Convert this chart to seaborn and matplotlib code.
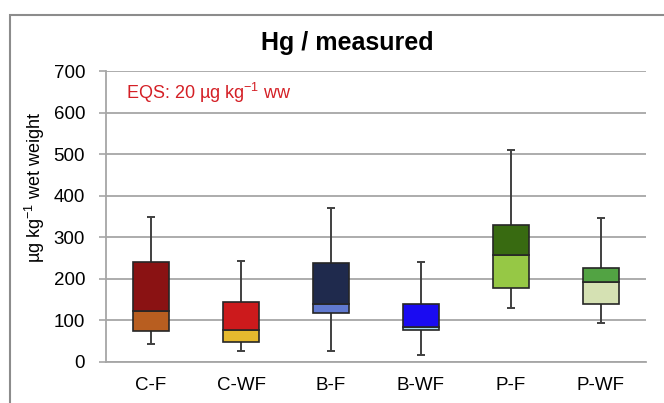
import numpy as np
import pandas as pd
import matplotlib
matplotlib.use("Agg")
import matplotlib.pyplot as plt
import seaborn as sns
from matplotlib.patches import Rectangle

# Werte (µg/kg Nassgewicht)
groups = ["C-F", "C-WF", "B-F", "B-WF", "P-F", "P-WF"]
whisker_low = [44, 27, 27, 18, 130, 93]
q1 = [75, 48, 119, 77, 179, 139]
median = [123, 77, 140, 83, 258, 192]
q3 = [240, 145, 237, 139, 330, 225]
whisker_high = [349, 242, 370, 240, 510, 347]

# Farben: unterer Teil (Q1-Median) und oberer Teil (Median-Q3)
lower_colors = ["#B85E20", "#E5B92E", "#6079CF", "#A8DDF0", "#96C845", "#D5E1B3"]
upper_colors = ["#8A1213", "#CC1A1C", "#1F2A4D", "#1A0BF2", "#386A11", "#52A343"]

df = pd.DataFrame({"group": groups, "lo": whisker_low, "q1": q1, "med": median,
                   "q3": q3, "hi": whisker_high})

sns.set_style("white")
plt.rcParams["font.family"] = ["Liberation Sans", "DejaVu Sans"]
plt.rcParams["mathtext.fontset"] = "custom"
plt.rcParams["mathtext.rm"] = "Liberation Sans"
plt.rcParams["mathtext.default"] = "regular"
plt.rcParams["text.color"] = "black"
plt.rcParams["xtick.color"] = "black"
plt.rcParams["ytick.color"] = "black"

fig = plt.figure(figsize=(6.64, 4.03), dpi=100)
ax = fig.add_axes([106 / 664, 1 - 362 / 403, 540 / 664, 291 / 403])

# Rahmen um das ganze Diagramm (rechts und unten abgeschnitten)
fig.patches.append(Rectangle((10 / 664, -0.2), 1.2, 1.2 - 15 / 403,
                             transform=fig.transFigure, fill=False,
                             edgecolor="#8C8C8C", lw=1.5, zorder=0))

x = np.arange(len(df))
box_w = 0.4
cap_w = 0.09

# Whisker
ax.vlines(x, df["lo"], df["hi"], color="#404040", lw=1.4, zorder=2)
ax.hlines(df["lo"], x - cap_w / 2, x + cap_w / 2, color="#404040", lw=1.4, zorder=2)
ax.hlines(df["hi"], x - cap_w / 2, x + cap_w / 2, color="#404040", lw=1.4, zorder=2)

# Box als zwei gestapelte Balken
ax.bar(x, df["med"] - df["q1"], bottom=df["q1"], width=box_w, color=lower_colors,
       edgecolor="#262626", lw=1.2, zorder=3)
ax.bar(x, df["q3"] - df["med"], bottom=df["med"], width=box_w, color=upper_colors,
       edgecolor="#262626", lw=1.2, zorder=3)

ax.set_xlim(-0.5, len(df) - 0.5)
ax.set_ylim(0, 700)
ax.set_yticks(np.arange(0, 701, 100))
ax.set_xticks(x)
ax.set_xticklabels(groups, fontsize=13.5)
ax.set_xticks(np.arange(-0.5, len(df), 1), minor=True)
ax.tick_params(axis="x", which="major", length=0, pad=11)
ax.tick_params(axis="x", which="minor", length=6, width=1.2, color="#A6A6A6", direction="out")
ax.tick_params(axis="y", length=5, width=1.2, color="#A6A6A6", direction="out", pad=10,
               labelsize=13.5, left=True, labelcolor="black")
ax.tick_params(axis="x", labelcolor="black")
ax.yaxis.grid(True, color="#A6A6A6", lw=1.3, zorder=0)
ax.set_axisbelow(True)
for side in ["top", "right"]:
    ax.spines[side].set_visible(False)
for side in ["left", "bottom"]:
    ax.spines[side].set_color("#A6A6A6")
    ax.spines[side].set_linewidth(1.3)

fig.text(347 / 664, 1 - 43 / 403, "Hg / measured", fontsize=18, fontweight="bold",
         ha="center", va="center", color="black")
fig.text(35 / 664, 1 - 187 / 403, r"µg kg$^{-1}$ wet weight", fontsize=13,
         rotation=90, ha="center", va="center", color="black")
ax.text(126 / 664, 1 - 93 / 403, r"EQS: 20 µg kg$^{-1}$ ww", fontsize=13,
        color="#D42026", ha="left", va="center", transform=fig.transFigure)

fig.savefig("out.png", dpi=100)
